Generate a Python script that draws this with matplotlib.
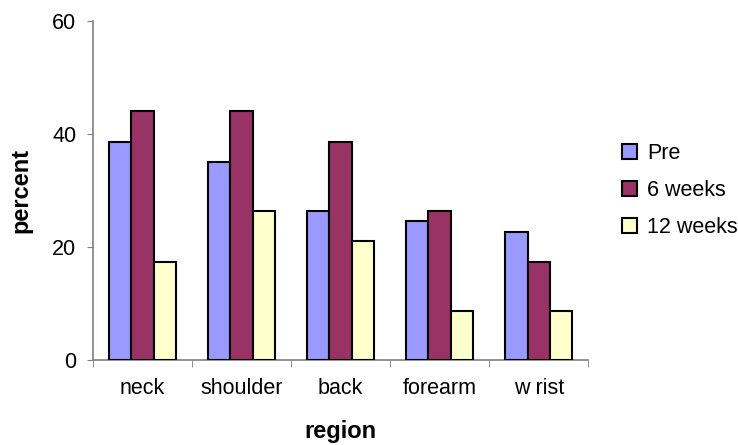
import numpy as np
import matplotlib.pyplot as plt

plt.rcParams['font.family'] = ['Liberation Sans', 'DejaVu Sans']

# data
regions = ['neck', 'shoulder', 'back', 'forearm', 'w rist']
series_names = ['Pre', '6 weeks', '12 weeks']
pre = [38.6, 35.0, 26.3, 24.6, 22.6]
weeks_6 = [44.0, 44.0, 38.6, 26.3, 17.3]
weeks_12 = [17.3, 26.3, 21.0, 8.7, 8.7]
colors = ['#9999FF', '#993366', '#FFFFCC']

fig = plt.figure(figsize=(7.38, 4.45), dpi=100)
ax = fig.add_axes([0.126, 0.191, 0.671, 0.762])

x = np.arange(len(regions))
width = 0.225
for i, (vals, name) in enumerate(zip([pre, weeks_6, weeks_12], series_names)):
    ax.bar(x + (i - 1) * width, vals, width, color=colors[i], edgecolor='black',
           linewidth=1.5, label=name, zorder=3)

ax.set_xlim(-0.5, len(regions) - 0.5)
ax.set_ylim(0, 60)
ax.set_yticks([0, 20, 40, 60])
ax.tick_params(axis='y', labelsize=15.5, direction='out', length=4, color='#808080', pad=8)

# category labels centered, tick marks at the category edges
ax.set_xticks(x)
ax.set_xticklabels(regions, fontsize=15.5)
ax.tick_params(axis='x', which='major', length=0, pad=13)
ax.set_xticks(np.arange(-0.5, len(regions)), minor=True)
ax.tick_params(axis='x', which='minor', length=5, color='#808080', direction='out')

for side in ['top', 'right']:
    ax.spines[side].set_visible(False)
for side in ['left', 'bottom']:
    ax.spines[side].set_color('#808080')
    ax.spines[side].set_linewidth(1.2)

ax.set_ylabel('percent', fontsize=17, fontweight='bold', labelpad=14)
ax.set_xlabel('region', fontsize=17, fontweight='bold', labelpad=15)

ax.legend(loc='center left', bbox_to_anchor=(1.03, 0.5), frameon=False, fontsize=15.5,
          handlelength=0.7, handleheight=0.7, handletextpad=0.45, labelspacing=0.75)

fig.savefig('out.png', dpi=100)
